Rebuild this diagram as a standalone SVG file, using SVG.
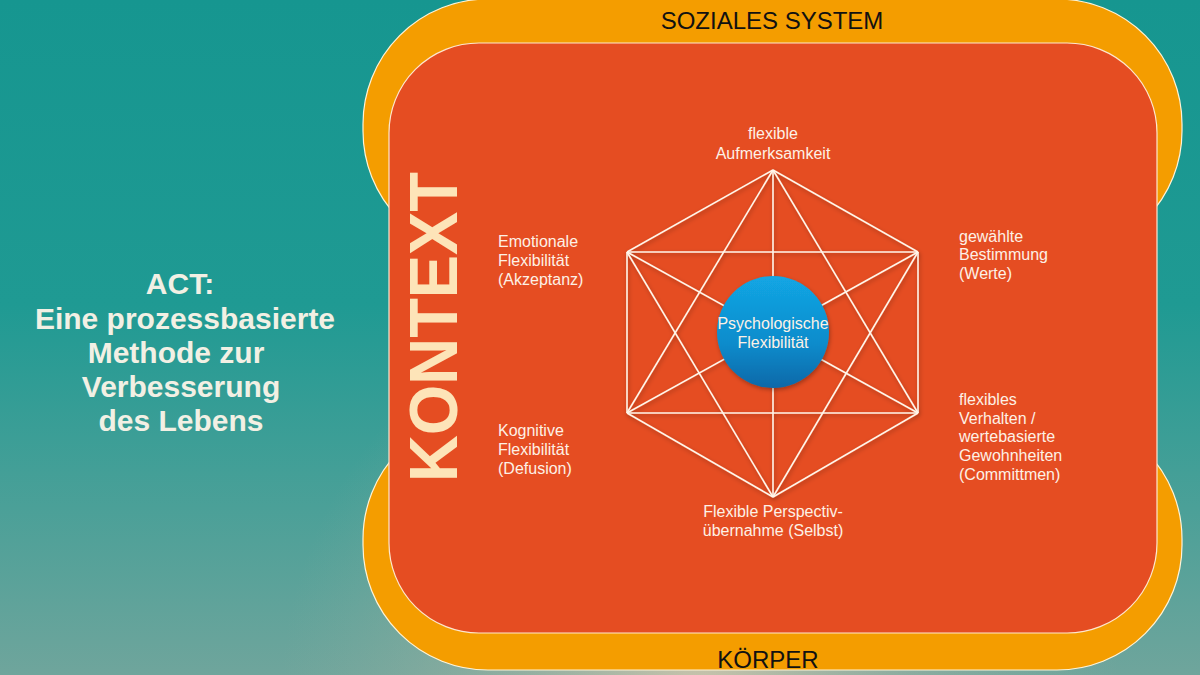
<svg xmlns="http://www.w3.org/2000/svg" width="1200" height="675" viewBox="0 0 1200 675">
<defs>
<linearGradient id="bg" x1="0" y1="0" x2="0" y2="1">
<stop offset="0" stop-color="#169690"/>
<stop offset="0.45" stop-color="#1f9a93"/>
<stop offset="1" stop-color="#6fa59c"/>
</linearGradient>
<radialGradient id="glow" cx="700" cy="700" r="420" gradientUnits="userSpaceOnUse">
<stop offset="0" stop-color="#d8c9ae" stop-opacity="0.9"/>
<stop offset="0.5" stop-color="#a9b4a3" stop-opacity="0.5"/>
<stop offset="1" stop-color="#8fae9f" stop-opacity="0"/>
</radialGradient>
<linearGradient id="ball" x1="0" y1="0" x2="0" y2="1">
<stop offset="0" stop-color="#12a6e4"/>
<stop offset="0.6" stop-color="#0f8ccc"/>
<stop offset="1" stop-color="#0a68a8"/>
</linearGradient>
<filter id="sh" x="-20%" y="-20%" width="140%" height="140%">
<feDropShadow dx="1" dy="2" stdDeviation="2" flood-color="#000" flood-opacity="0.3"/>
</filter>
</defs>
<style>
.lobe{fill:#f49d00;stroke:#fff3d6;stroke-width:1.2}
.ctx{fill:#e54d22;stroke:#fde7cf;stroke-width:1.2}
.lbl{font-family:"Liberation Sans",Arial,sans-serif;font-size:16px;fill:#fdf1e6}
.mid{text-anchor:middle}
.title{font-family:"Liberation Sans",Arial,sans-serif;font-size:30px;font-weight:bold;fill:#f2f0e4;text-anchor:middle}
.dark{font-family:"Liberation Sans",Arial,sans-serif;font-size:24px;fill:#111;text-anchor:middle}
.edge{stroke:#fff6ea;stroke-width:1.6;fill:none}
</style>
<g id="background">
<rect x="0" y="0" width="1200" height="675" fill="url(#bg)"/>
<rect x="0" y="0" width="1200" height="675" fill="url(#glow)"/>
</g>
<g id="title">
<text class="title" x="180" y="294">ACT:</text>
<text class="title" x="185" y="329">Eine prozessbasierte</text>
<text class="title" x="176" y="363">Methode zur</text>
<text class="title" x="181" y="397">Verbesserung</text>
<text class="title" x="181" y="431">des Lebens</text>
</g>
<g id="soziales-system">
<rect class="lobe" x="363" y="-1" width="819" height="257" rx="125" ry="125"/>
<text class="dark" x="772" y="29">SOZIALES SYSTEM</text>
</g>
<g id="koerper">
<rect class="lobe" x="363" y="414" width="819" height="256" rx="125" ry="125"/>
</g>
<g id="kontext">
<rect class="ctx" x="389" y="43" width="768" height="590" rx="90" ry="90"/>
<text transform="translate(457,327) rotate(-90)" text-anchor="middle" font-family="'Liberation Sans',Arial,sans-serif" font-weight="bold" font-size="68" fill="#fde4b8" textLength="310" lengthAdjust="spacingAndGlyphs">KONTEXT</text>
</g>
<g id="koerper-label">
<text class="dark" x="768" y="668">KÖRPER</text>
</g>
<g id="connectors" filter="url(#sh)">
<line class="edge" x1="773" y1="170" x2="918" y2="252"/>
<line class="edge" x1="918" y1="252" x2="918" y2="413"/>
<line class="edge" x1="918" y1="413" x2="773" y2="497"/>
<line class="edge" x1="773" y1="497" x2="627" y2="413"/>
<line class="edge" x1="627" y1="413" x2="627" y2="252"/>
<line class="edge" x1="627" y1="252" x2="773" y2="170"/>
<line class="edge" x1="773" y1="170" x2="773" y2="497"/>
<line class="edge" x1="627" y1="252" x2="918" y2="252"/>
<line class="edge" x1="627" y1="413" x2="918" y2="413"/>
<line class="edge" x1="627" y1="252" x2="918" y2="413"/>
<line class="edge" x1="918" y1="252" x2="627" y2="413"/>
<line class="edge" x1="773" y1="170" x2="627" y2="413"/>
<line class="edge" x1="773" y1="170" x2="918" y2="413"/>
<line class="edge" x1="773" y1="497" x2="627" y2="252"/>
<line class="edge" x1="773" y1="497" x2="918" y2="252"/>
</g>
<g id="psychologische-flexibilitaet">
<circle cx="773" cy="332" r="56" fill="url(#ball)" filter="url(#sh)"/>
<text class="lbl mid" x="773" y="329">Psychologische</text>
<text class="lbl mid" x="773" y="348">Flexibilität</text>
</g>
<g id="aufmerksamkeit">
<text class="lbl mid" x="773" y="139">flexible</text>
<text class="lbl mid" x="773" y="159">Aufmerksamkeit</text>
</g>
<g id="werte">
<text class="lbl" x="959" y="242">gewählte</text>
<text class="lbl" x="959" y="260">Bestimmung</text>
<text class="lbl" x="959" y="279">(Werte)</text>
</g>
<g id="commitment">
<text class="lbl" x="959" y="405">flexibles</text>
<text class="lbl" x="959" y="424">Verhalten /</text>
<text class="lbl" x="959" y="442">wertebasierte</text>
<text class="lbl" x="959" y="461">Gewohnheiten</text>
<text class="lbl" x="959" y="480">(Committmen)</text>
</g>
<g id="selbst">
<text class="lbl mid" x="773" y="517">Flexible Perspectiv-</text>
<text class="lbl mid" x="773" y="536">übernahme (Selbst)</text>
</g>
<g id="akzeptanz">
<text class="lbl" x="498" y="247">Emotionale</text>
<text class="lbl" x="498" y="266">Flexibilität</text>
<text class="lbl" x="498" y="285">(Akzeptanz)</text>
</g>
<g id="defusion">
<text class="lbl" x="498" y="436">Kognitive</text>
<text class="lbl" x="498" y="455">Flexibilität</text>
<text class="lbl" x="498" y="474">(Defusion)</text>
</g>
</svg>
